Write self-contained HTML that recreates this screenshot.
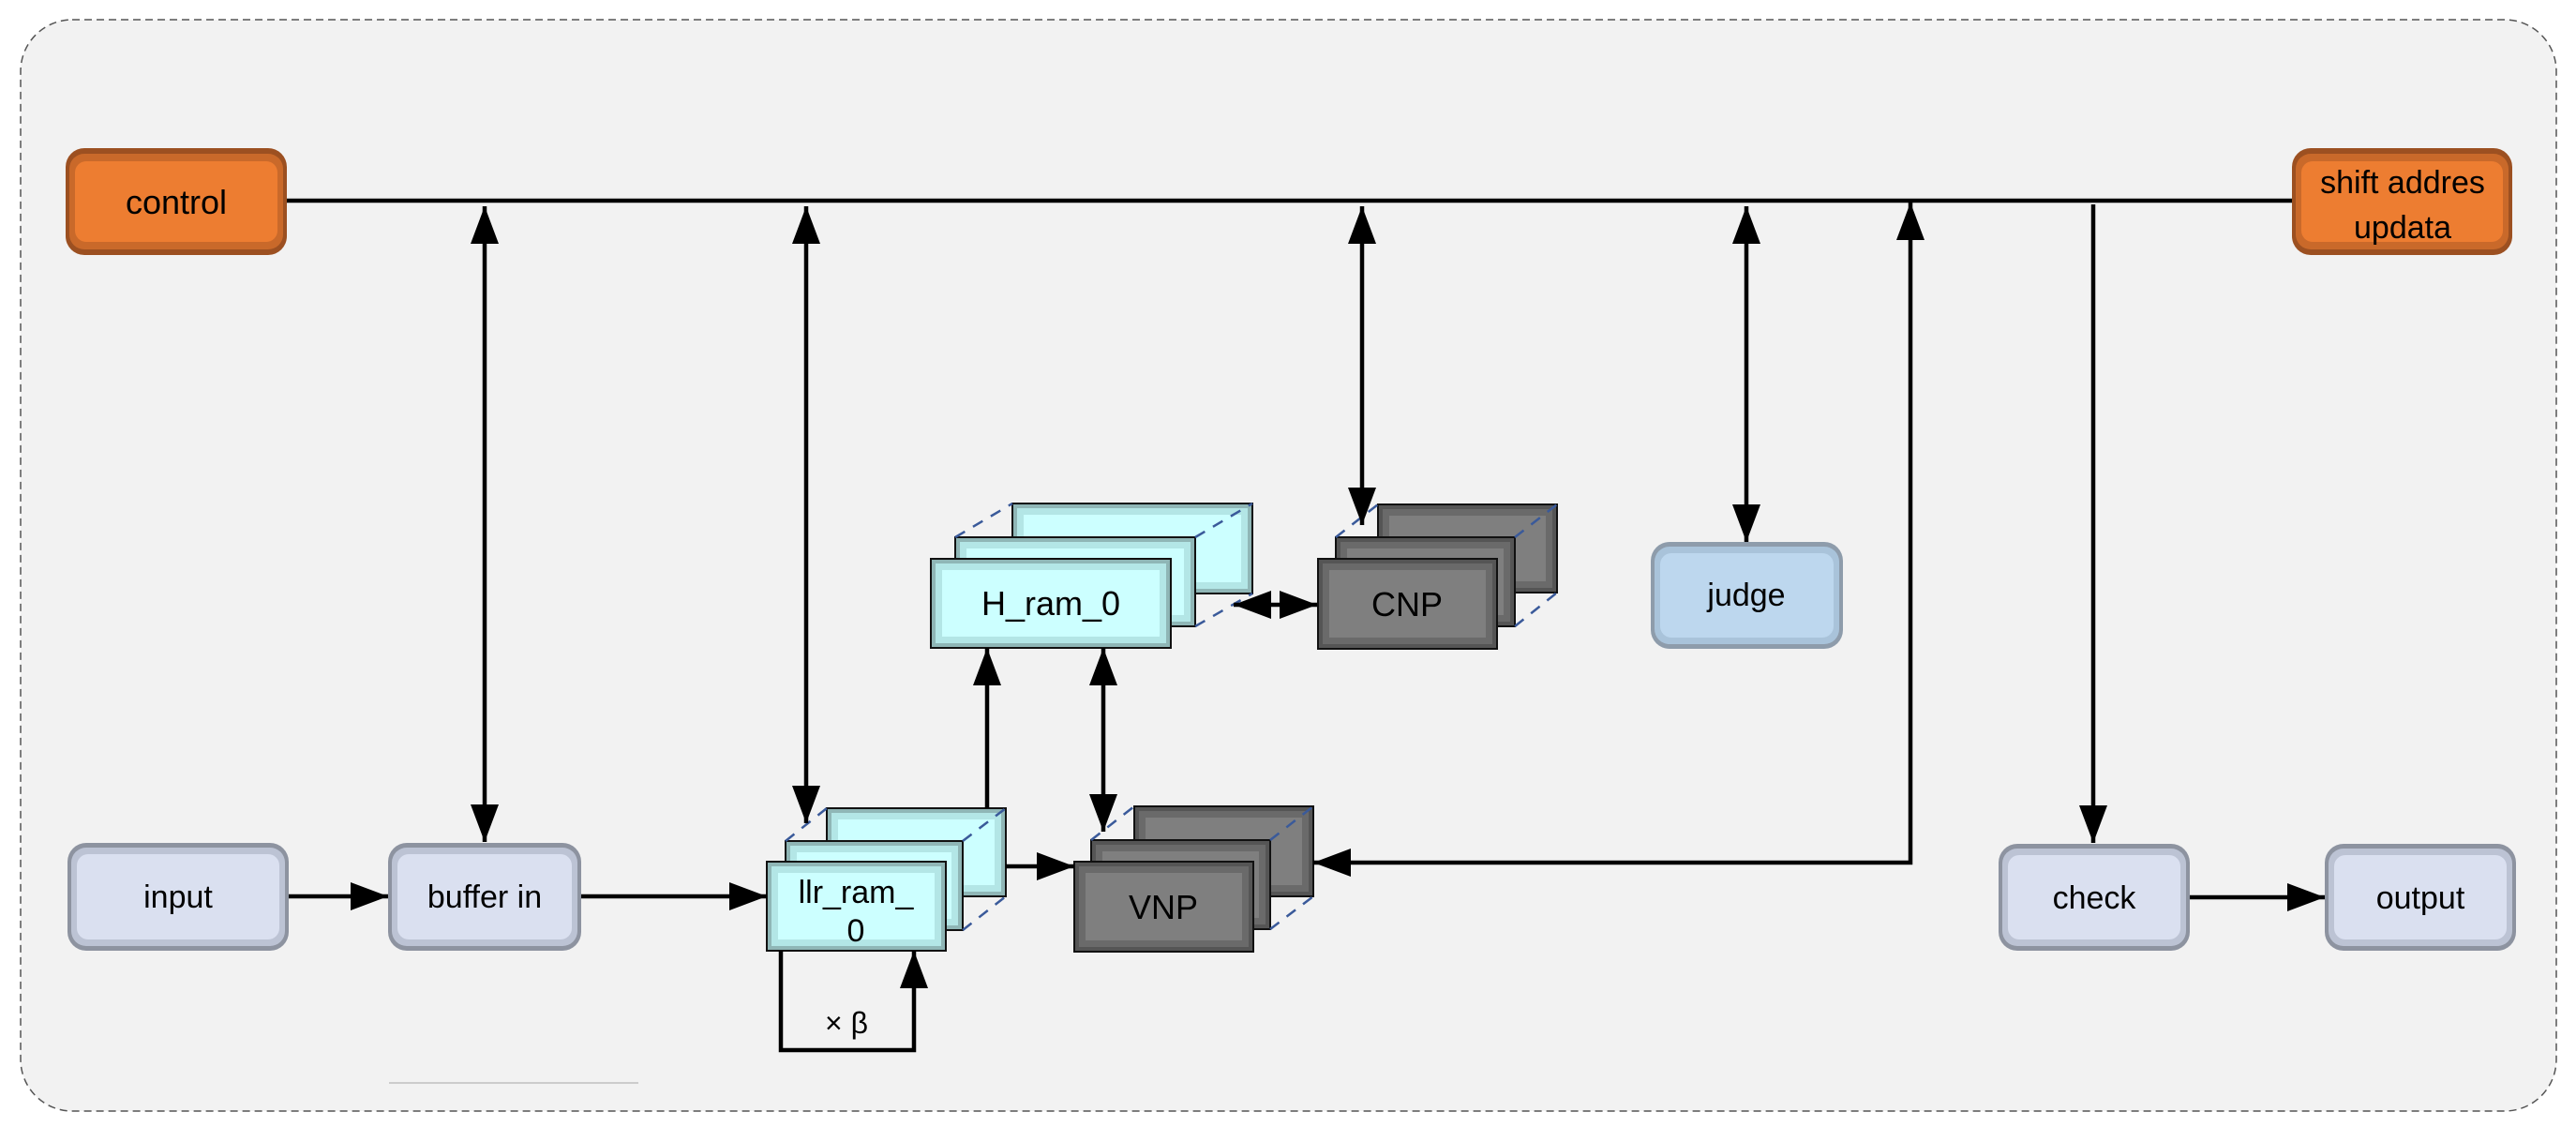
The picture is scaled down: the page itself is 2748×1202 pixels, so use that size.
<!DOCTYPE html>
<html><head><meta charset="utf-8"><style>
html,body{margin:0;padding:0;background:#fff;}
svg{display:block;}
text{font-family:"Liberation Sans",sans-serif;fill:#000;}
</style></head><body>
<svg width="2748" height="1202" viewBox="0 0 2748 1202" xmlns="http://www.w3.org/2000/svg">
<defs>
<marker id="ah" viewBox="0 0 40 30" refX="40" refY="15" markerWidth="40" markerHeight="30" markerUnits="userSpaceOnUse" orient="auto-start-reverse">
<path d="M0,0 L40,15 L0,30 z" fill="#000"/></marker>
<filter id="in" x="-5%" y="-5%" width="110%" height="110%">
<feGaussianBlur stdDeviation="0.5"/></filter>
</defs>
<rect x="0" y="0" width="2748" height="1202" fill="#fff"/>
<rect x="22" y="21" width="2705" height="1164" rx="55" fill="#f2f2f2" stroke="#555" stroke-width="1.5" stroke-dasharray="8,5"/>
<line x1="415" y1="1155" x2="681" y2="1155" stroke="#ccc" stroke-width="2"/>

<!-- rounded boxes -->
<g>
<rect x="70" y="158" width="236" height="114" rx="20" fill="#9c5021"/>
<rect x="74" y="164" width="228" height="102" rx="16" fill="#c9692a"/>
<rect x="80" y="172" width="216" height="86" rx="12" fill="#ed7d31"/>
<text x="188" y="228" font-size="36" text-anchor="middle">control</text>

<rect x="2445" y="158" width="235" height="114" rx="20" fill="#9c5021"/>
<rect x="2449" y="164" width="227" height="102" rx="16" fill="#c9692a"/>
<rect x="2455" y="172" width="215" height="86" rx="12" fill="#ed7d31"/>
<text x="2563" y="206" font-size="34" text-anchor="middle">shift addres</text>
<text x="2563" y="254" font-size="34" text-anchor="middle">updata</text>

<rect x="1761" y="578" width="205" height="114" rx="20" fill="#8e9cab"/>
<rect x="1765" y="583" width="197" height="104" rx="16" fill="#a9c3da"/>
<rect x="1771" y="590" width="185" height="90" rx="12" fill="#bdd7ee"/>
<text x="1863" y="646" font-size="34" text-anchor="middle">judge</text>

<rect x="72" y="899" width="236" height="115" rx="20" fill="#8d93a0"/>
<rect x="76" y="904" width="228" height="105" rx="16" fill="#bcc3d4"/>
<rect x="82" y="911" width="216" height="91" rx="12" fill="#dae0f0"/>
<text x="190" y="968" font-size="34" text-anchor="middle">input</text>

<rect x="414" y="899" width="206" height="115" rx="20" fill="#8d93a0"/>
<rect x="418" y="904" width="198" height="105" rx="16" fill="#bcc3d4"/>
<rect x="424" y="911" width="186" height="91" rx="12" fill="#dae0f0"/>
<text x="517" y="968" font-size="34" text-anchor="middle">buffer in</text>

<rect x="2132" y="900" width="204" height="114" rx="20" fill="#8d93a0"/>
<rect x="2136" y="905" width="196" height="104" rx="16" fill="#bcc3d4"/>
<rect x="2142" y="912" width="184" height="90" rx="12" fill="#dae0f0"/>
<text x="2234" y="969" font-size="34" text-anchor="middle">check</text>

<rect x="2480" y="900" width="204" height="114" rx="20" fill="#8d93a0"/>
<rect x="2484" y="905" width="196" height="104" rx="16" fill="#bcc3d4"/>
<rect x="2490" y="912" width="184" height="90" rx="12" fill="#dae0f0"/>
<text x="2582" y="969" font-size="34" text-anchor="middle">output</text>
</g>

<!-- stacked boxes: helper pattern -->
<!-- H_ram -->
<g stroke="#111" stroke-width="2">
<rect x="1080" y="537" width="256" height="96" fill="#8fb6b6"/>
<rect x="1085" y="542" width="246" height="86" fill="#b3e6e6" stroke="none"/>
<rect x="1092" y="549" width="232" height="72" fill="#ccffff" stroke="none"/>
<rect x="1019" y="573" width="256" height="95" fill="#8fb6b6"/>
<rect x="1024" y="578" width="246" height="85" fill="#b3e6e6" stroke="none"/>
<rect x="1031" y="585" width="232" height="71" fill="#ccffff" stroke="none"/>
<rect x="993" y="596" width="256" height="95" fill="#8fb6b6"/>
<rect x="998" y="601" width="246" height="85" fill="#b3e6e6" stroke="none"/>
<rect x="1005" y="608" width="232" height="71" fill="#ccffff" stroke="none"/>
</g>
<text x="1121" y="656" font-size="36" text-anchor="middle">H_ram_0</text>

<!-- CNP -->
<g stroke="#111" stroke-width="2">
<rect x="1470" y="538" width="191" height="94" fill="#555"/>
<rect x="1475" y="543" width="181" height="84" fill="#6a6a6a" stroke="none"/>
<rect x="1482" y="550" width="167" height="70" fill="#7f7f7f" stroke="none"/>
<rect x="1425" y="573" width="191" height="95" fill="#555"/>
<rect x="1430" y="578" width="181" height="85" fill="#6a6a6a" stroke="none"/>
<rect x="1437" y="585" width="167" height="71" fill="#7f7f7f" stroke="none"/>
<rect x="1406" y="596" width="191" height="96" fill="#555"/>
<rect x="1411" y="601" width="181" height="86" fill="#6a6a6a" stroke="none"/>
<rect x="1418" y="608" width="167" height="72" fill="#7f7f7f" stroke="none"/>
</g>
<text x="1501" y="657" font-size="36" text-anchor="middle">CNP</text>

<!-- llr -->
<g stroke="#111" stroke-width="2">
<rect x="882" y="862" width="191" height="94" fill="#8fb6b6"/>
<rect x="887" y="867" width="181" height="84" fill="#b3e6e6" stroke="none"/>
<rect x="894" y="874" width="167" height="70" fill="#ccffff" stroke="none"/>
<rect x="838" y="897" width="189" height="95" fill="#8fb6b6"/>
<rect x="843" y="902" width="179" height="85" fill="#b3e6e6" stroke="none"/>
<rect x="850" y="909" width="165" height="71" fill="#ccffff" stroke="none"/>
<rect x="818" y="919" width="191" height="95" fill="#8fb6b6"/>
<rect x="823" y="924" width="181" height="85" fill="#b3e6e6" stroke="none"/>
<rect x="830" y="931" width="167" height="71" fill="#ccffff" stroke="none"/>
</g>
<text x="913" y="963" font-size="34" text-anchor="middle">llr_ram_</text>
<text x="913" y="1004" font-size="34" text-anchor="middle">0</text>

<!-- VNP -->
<g stroke="#111" stroke-width="2">
<rect x="1210" y="860" width="191" height="96" fill="#555"/>
<rect x="1215" y="865" width="181" height="86" fill="#6a6a6a" stroke="none"/>
<rect x="1222" y="872" width="167" height="72" fill="#7f7f7f" stroke="none"/>
<rect x="1164" y="896" width="191" height="95" fill="#555"/>
<rect x="1169" y="901" width="181" height="85" fill="#6a6a6a" stroke="none"/>
<rect x="1176" y="908" width="167" height="71" fill="#7f7f7f" stroke="none"/>
<rect x="1146" y="919" width="191" height="96" fill="#555"/>
<rect x="1151" y="924" width="181" height="86" fill="#6a6a6a" stroke="none"/>
<rect x="1158" y="931" width="167" height="72" fill="#7f7f7f" stroke="none"/>
</g>
<text x="1241" y="980" font-size="36" text-anchor="middle">VNP</text>

<!-- dashed diagonals -->
<g stroke="#3a5a9a" stroke-width="2.5" stroke-dasharray="12,10">
<line x1="1019" y1="573" x2="1080" y2="537"/>
<line x1="1275" y1="573" x2="1336" y2="537"/>
<line x1="1275" y1="668" x2="1336" y2="633"/>
<line x1="1425" y1="573" x2="1470" y2="538"/>
<line x1="1616" y1="573" x2="1661" y2="538"/>
<line x1="1616" y1="668" x2="1661" y2="632"/>
<line x1="838" y1="897" x2="882" y2="862"/>
<line x1="1027" y1="897" x2="1073" y2="862"/>
<line x1="1027" y1="992" x2="1073" y2="956"/>
<line x1="1164" y1="896" x2="1210" y2="860"/>
<line x1="1355" y1="896" x2="1401" y2="860"/>
<line x1="1355" y1="991" x2="1401" y2="956"/>
</g>

<!-- connectors -->
<g stroke="#000" stroke-width="4.5" fill="none">
<line x1="306" y1="214" x2="2445" y2="214"/>
<line x1="517" y1="220" x2="517" y2="898" marker-start="url(#ah)" marker-end="url(#ah)"/>
<line x1="860" y1="220" x2="860" y2="878" marker-start="url(#ah)" marker-end="url(#ah)"/>
<line x1="1453" y1="220" x2="1453" y2="560" marker-start="url(#ah)" marker-end="url(#ah)"/>
<line x1="1863" y1="220" x2="1863" y2="578" marker-start="url(#ah)" marker-end="url(#ah)"/>
<polyline points="1401,920 2038,920 2038,216" marker-start="url(#ah)" marker-end="url(#ah)"/>
<line x1="2233" y1="218" x2="2233" y2="899" marker-end="url(#ah)"/>
<line x1="2336" y1="957" x2="2480" y2="957" marker-end="url(#ah)"/>
<line x1="308" y1="956" x2="414" y2="956" marker-end="url(#ah)"/>
<line x1="620" y1="956" x2="818" y2="956" marker-end="url(#ah)"/>
<line x1="1053" y1="862" x2="1053" y2="691" marker-end="url(#ah)"/>
<line x1="1177" y1="691" x2="1177" y2="887" marker-start="url(#ah)" marker-end="url(#ah)"/>
<line x1="1073" y1="924" x2="1146" y2="924" marker-end="url(#ah)"/>
<line x1="1316" y1="645" x2="1360" y2="645" marker-start="url(#ah)"/>
<line x1="1360" y1="645" x2="1405" y2="645" marker-end="url(#ah)"/>
<polyline points="833,1014 833,1120 975,1120 975,1014" marker-end="url(#ah)"/>
</g>
<text x="903" y="1102" font-size="32" text-anchor="middle">× β</text>
</svg>
</body></html>
